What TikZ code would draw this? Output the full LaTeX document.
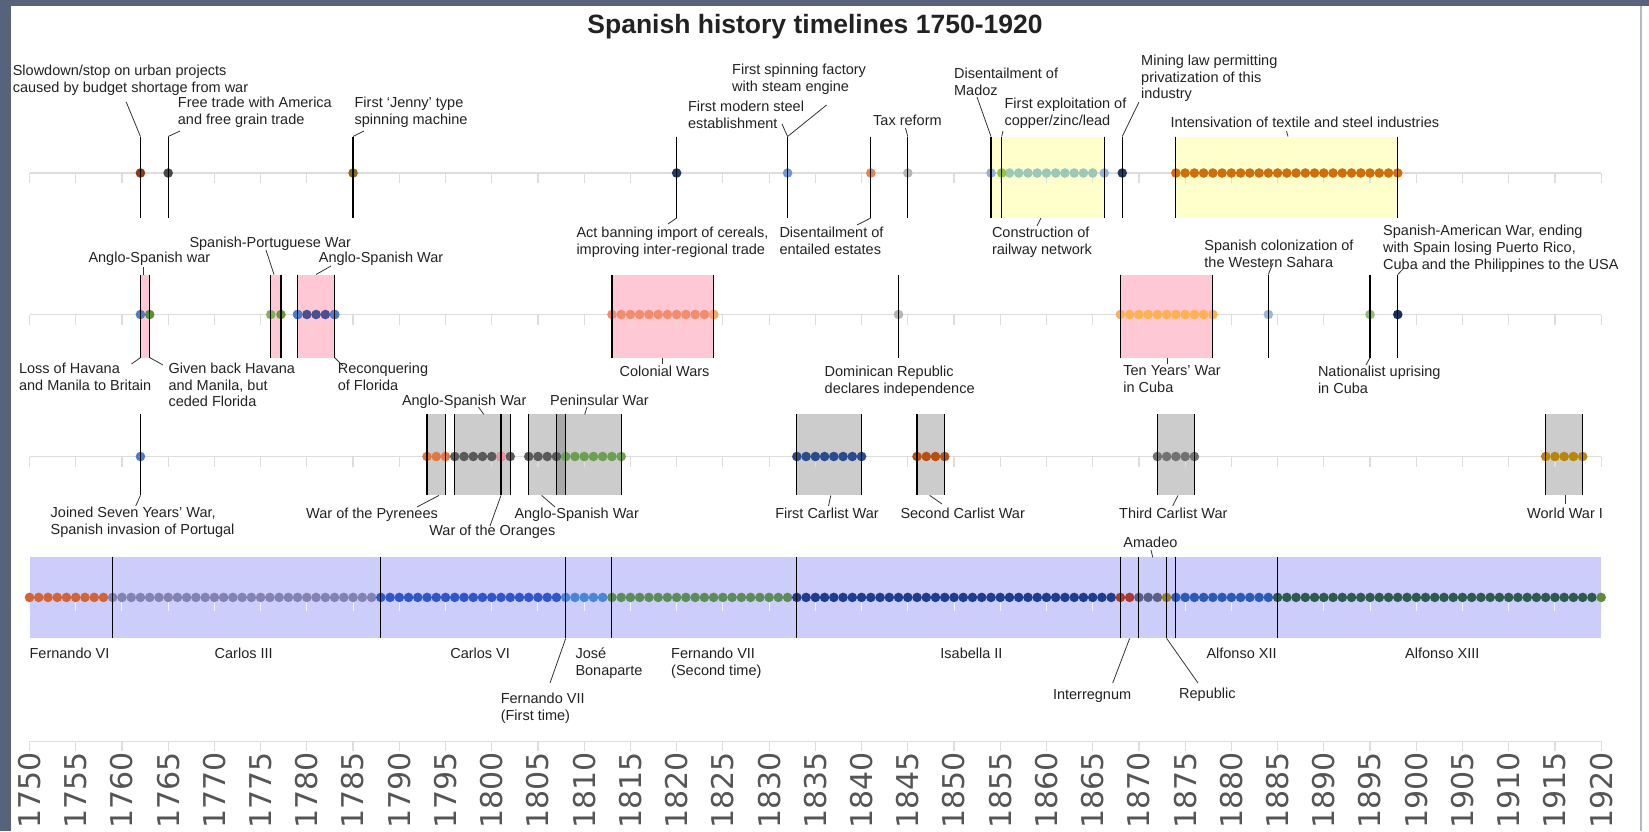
\documentclass[tikz,border=0pt]{standalone}
\usepackage{fontspec}
\setmainfont{Liberation Sans}
\newfontfamily\yearfont{DejaVu Sans}
\definecolor{framecol}{HTML}{56637A}
\definecolor{axg}{HTML}{DDDDDD}
\definecolor{pinkbox}{HTML}{FFC8D4}
\definecolor{yelbox}{HTML}{FFFFCC}
\definecolor{graybox}{HTML}{CCCCCC}
\definecolor{grayover}{HTML}{A8A8A8}
\definecolor{bandcol}{HTML}{CDCDFC}
\definecolor{txt}{HTML}{222222}
\definecolor{ldr}{HTML}{333333}
\definecolor{yeargray}{HTML}{555555}
% dot colours
\definecolor{cBrownRed}{HTML}{8B3A0E}
\definecolor{cDarkGray}{HTML}{4A4A4A}
\definecolor{cOlive}{HTML}{8A6A12}
\definecolor{cNavy}{HTML}{1D3A6B}
\definecolor{cLightBlue}{HTML}{7096D4}
\definecolor{cOrange}{HTML}{E8834A}
\definecolor{cLGray}{HTML}{B5B5B5}
\definecolor{cTeal}{HTML}{9CC8B8}
\definecolor{cPaleBlue}{HTML}{90B2DE}
\definecolor{cLime}{HTML}{94C044}
\definecolor{cAmber}{HTML}{CC6F0C}
\definecolor{cBlue}{HTML}{4D7CC9}
\definecolor{cGreen}{HTML}{5E8F34}
\definecolor{cLGreen}{HTML}{80B058}
\definecolor{cPurple}{HTML}{4A4F90}
\definecolor{cSalmon}{HTML}{F28C6A}
\definecolor{cPeach}{HTML}{F7A866}
\definecolor{cYelOr}{HTML}{FFB050}
\definecolor{cSky}{HTML}{92B8E2}
\definecolor{cPaleGreen}{HTML}{8CC070}
\definecolor{cDeepNavy}{HTML}{1A2D5A}
\definecolor{cPyr}{HTML}{E07840}
\definecolor{cGrayDot}{HTML}{5A5A5A}
\definecolor{cPink}{HTML}{F090A0}
\definecolor{cWarGreen}{HTML}{6AA050}
\definecolor{cCarl}{HTML}{2A4B8C}
\definecolor{cRust}{HTML}{B8500F}
\definecolor{cMidGray}{HTML}{727272}
\definecolor{cGold}{HTML}{B8860B}
\definecolor{rFVI}{HTML}{D2643A}
\definecolor{rCIII}{HTML}{8283B2}
\definecolor{rCIV}{HTML}{3056C8}
\definecolor{rJose}{HTML}{4A86D8}
\definecolor{rFVII}{HTML}{5B8C5A}
\definecolor{rIsa}{HTML}{1F3D8C}
\definecolor{rInter}{HTML}{A83A32}
\definecolor{rAmadeo}{HTML}{5A5F8A}
\definecolor{rRep}{HTML}{9C7B25}
\definecolor{rAXII}{HTML}{2B5BB5}
\definecolor{rAXIII}{HTML}{2F5A50}
\definecolor{rEnd}{HTML}{5D8C3C}
\newcommand\yx[1]{{29.5+(#1-1750)*9.245}}
\newcommand\dotrow[4]{\foreach \i in {#1,...,#2}{\fill[#3] (\yx{\i},#4) circle (4.8pt);}}
\newcommand\onedot[3]{\fill[#2] (\yx{#1},#3) circle (4.8pt);}
\newcommand\evl[4]{\coordinate (#1t) at (\yx{#2},#3); \coordinate (#1b) at (\yx{#2},#4); \draw[evline] (#1t) -- (#1b);}
\newcommand\rgl[2]{\coordinate (#1t) at (\yx{#2},557.4); \coordinate (#1b) at (\yx{#2},638.4); \draw[reignline] (#1t) -- (#1b);}
\newcommand\tlaxis[2]{\draw[axisln] (\yx{1750},#1) -- (\yx{1920},#1); \foreach \i in {1750,1755,...,1920}{\draw[#2] (\yx{\i},#1) -- (\yx{\i},#1+10);}}
\newcommand\spanbox[5]{\fill[#1] (\yx{#2},#4) rectangle (\yx{#3},#5);}
\tikzset{
  lbl/.style={anchor=north west, inner sep=0pt, align=left, text=txt, font=\fontsize{14.5}{16.8}\selectfont},
  evline/.style={draw=black, line width=1.2pt},
  reignline/.style={draw=black, line width=0.9pt},
  leader/.style={draw=ldr, line width=0.8pt},
  axisln/.style={draw=axg, line width=1.6pt},
  tickln/.style={draw=axg, line width=1.2pt},
  bandtick/.style={draw=white!80!bandcol, line width=1pt},
  titlestyle/.style={inner sep=0pt, text=txt, font=\fontsize{26.5}{30}\selectfont\bfseries},
  yearlbl/.style={rotate=90, anchor=east, inner sep=0pt, text=yeargray, font=\yearfont\fontsize{30}{31}\selectfont},
}
\begin{document}
\begin{tikzpicture}[x=1pt,y=-1pt]
\useasboundingbox (0,0) rectangle (1649,831);
\fill[white] (0,0) rectangle (1649,831);
\fill[framecol] (0,0) rectangle (11,831);
\fill[framecol] (0,0) rectangle (1649,6);
\fill[framecol!45] (1640,6) rectangle (1642,831);

\node[titlestyle] (title) at (815,26.3) {Spanish history timelines 1750-1920};

% ================= ROW 1 : economy =================
\spanbox{yelbox}{1854}{1866.26}{136.5}{218}
\spanbox{yelbox}{1874}{1898}{136.5}{218}
\tlaxis{173}{tickln}
\onedot{1762}{cBrownRed}{173}
\onedot{1765}{cDarkGray}{173}
\onedot{1785}{cOlive}{173}
\onedot{1820}{cNavy}{173}
\onedot{1832}{cLightBlue}{173}
\onedot{1841}{cOrange}{173}
\onedot{1845}{cLGray}{173}
\dotrow{1856}{1865}{cTeal}{173}
\onedot{1866.26}{cPaleBlue}{173}
\onedot{1854}{cPaleBlue}{173}
\onedot{1855.16}{cLime}{173}
\onedot{1868.2}{cNavy}{173}
\dotrow{1874}{1898}{cAmber}{173}
\evl{a1}{1762}{136.5}{218}
\evl{a2}{1765}{136.5}{218}
\evl{a3}{1785}{136.5}{218}
\evl{a4}{1820}{136.5}{218}
\evl{a5}{1832}{136.5}{218}
\evl{a6}{1841}{136.5}{218}
\evl{a7}{1845}{136.5}{218}
\evl{a8}{1854}{136.5}{218}
\evl{a9}{1855.16}{136.5}{218}
\evl{a10}{1866.26}{136.5}{218}
\evl{a11}{1868.2}{136.5}{218}
\evl{a12}{1874}{136.5}{218}
\evl{a13}{1898}{136.5}{218}

\node[lbl] (l1) at (12.6,65) {Slowdown/stop on urban projects\\caused by budget shortage from war};
\node[lbl] (l2) at (177.7,96.5) {Free trade with America\\and free grain trade};
\node[lbl] (l3) at (354.4,96.5) {First ‘Jenny’ type\\spinning machine};
\node[lbl] (l4) at (732,64) {First spinning factory\\with steam engine};
\node[lbl] (l5) at (687.8,100.7) {First modern steel\\establishment};
\node[lbl] (l6) at (873,114.4) {Tax reform};
\node[lbl] (l7) at (953.9,68.1) {Disentailment of\\Madoz};
\node[lbl] (l8) at (1004.4,97.5) {First exploitation of\\copper/zinc/lead};
\node[lbl] (l9) at (1141,54.5) {Mining law permitting\\privatization of this\\industry};
\node[lbl] (l10) at (1170.5,116.5) {Intensivation of textile and steel industries};
\node[lbl] (l11) at (576.3,227) {Act banning import of cereals,\\improving inter-regional trade};
\node[lbl] (l12) at (779.3,227) {Disentailment of\\entailed estates};
\node[lbl] (l13) at (991.8,227) {Construction of\\railway network};

\coordinate (k1) at (126.2,102);
\coordinate (k2) at (180,131);
\coordinate (k3) at (364,131);
\coordinate (k4a) at (826.6,105);
\coordinate (k4b) at (782,124);
\coordinate (k6) at (905.5,128);
\coordinate (k7) at (977,97);
\coordinate (k8) at (1003,131);
\coordinate (k9) at (1139,102);
\coordinate (k10a) at (1288,136.5);
\coordinate (k10) at (1286.5,131);
\coordinate (k11) at (668,224);
\coordinate (k12) at (857,225);
\coordinate (k13a) at (1041,218);
\coordinate (k13) at (1037,226);
\draw[leader] (a1t) -- (k1);
\draw[leader] (a2t) -- (k2);
\draw[leader] (a3t) -- (k3);
\draw[leader] (a5t) -- (k4a);
\draw[leader] (a5t) -- (k4b);
\draw[leader] (a7t) -- (k6);
\draw[leader] (a8t) -- (k7);
\draw[leader] (a9t) -- (k8);
\draw[leader] (a11t) -- (k9);
\draw[leader] (k10a) -- (k10);
\draw[leader] (a4b) -- (k11);
\draw[leader] (a6b) -- (k12);
\draw[leader] (k13a) -- (k13);

% ================= ROW 2 : colonies =================
\spanbox{pinkbox}{1762}{1763}{274.5}{357.6}
\spanbox{pinkbox}{1776.1}{1777.2}{274.5}{357.6}
\spanbox{pinkbox}{1779}{1783}{274.5}{357.6}
\spanbox{pinkbox}{1813}{1824}{274.5}{357.6}
\spanbox{pinkbox}{1868}{1878}{274.5}{357.6}
\tlaxis{314.5}{tickln}
\onedot{1762}{cBlue}{314.5}
\onedot{1763}{cGreen}{314.5}
\onedot{1776.1}{cLGreen}{314.5}
\onedot{1777.2}{cGreen!70!cLGreen}{314.5}
\dotrow{1779}{1783}{cPurple}{314.5}
\onedot{1779}{cBlue}{314.5}
\onedot{1783}{cBlue}{314.5}
\dotrow{1813}{1824}{cSalmon}{314.5}
\onedot{1824}{cPeach}{314.5}
\onedot{1844}{cLGray}{314.5}
\dotrow{1868}{1878}{cYelOr}{314.5}
\onedot{1884}{cSky}{314.5}
\onedot{1895}{cPaleGreen}{314.5}
\onedot{1898}{cDeepNavy}{314.5}
\evl{b1}{1762}{274.5}{357.6}
\evl{b2}{1763}{274.5}{357.6}
\evl{b3}{1776.1}{274.5}{357.6}
\evl{b4}{1777.2}{274.5}{357.6}
\evl{b5}{1779}{274.5}{357.6}
\evl{b6}{1783}{274.5}{357.6}
\evl{b7}{1813}{274.5}{357.6}
\evl{b8}{1824}{274.5}{357.6}
\evl{b9}{1844}{274.5}{357.6}
\evl{b10}{1868}{274.5}{357.6}
\evl{b11}{1878}{274.5}{357.6}
\evl{b12}{1884}{274.5}{357.6}
\evl{b13}{1895}{274.5}{357.6}
\evl{b14}{1898}{274.5}{357.6}

\node[lbl] (m1) at (88.3,252.2) {Anglo-Spanish war};
\node[lbl] (m2) at (189.3,236.4) {Spanish-Portuguese War};
\node[lbl] (m3) at (318.7,252.2) {Anglo-Spanish War};
\node[lbl] (m4) at (1204.2,239.5) {Spanish colonization of\\the Western Sahara};
\node[lbl] (m5) at (1383,224.8) {Spanish-American War, ending\\with Spain losing Puerto Rico,\\Cuba and the Philippines to the USA};
\node[lbl] (m6) at (18.9,362.6) {Loss of Havana\\and Manila to Britain};
\node[lbl] (m7) at (168.3,362.6) {Given back Havana\\and Manila, but\\ceded Florida};
\node[lbl] (m8) at (337.6,362.6) {Reconquering\\of Florida};
\node[lbl] (m9) at (619.5,365.8) {Colonial Wars};
\node[lbl] (m10) at (824.5,365.8) {Dominican Republic\\declares independence};
\node[lbl] (m11) at (1123.2,365.8) {Ten Years’ War\\in Cuba};
\node[lbl] (m12) at (1317.8,365.8) {Nationalist uprising\\in Cuba};

\coordinate (n1a) at (143,274.5);
\coordinate (n1) at (143,267);
\coordinate (n2a) at (274,274.5);
\coordinate (n2) at (266,250);
\coordinate (n3a) at (316,274.5);
\coordinate (n3) at (331,266);
\coordinate (n6) at (131.5,364);
\coordinate (n7) at (163,365);
\coordinate (n8) at (343,366);
\coordinate (n9a) at (662.3,357.6);
\coordinate (n9) at (662.3,364);
\coordinate (n11a) at (1167.4,357.6);
\coordinate (n11) at (1167.4,364);
\coordinate (n4) at (1273,263);
\coordinate (n12) at (1366,365);
\coordinate (n5) at (1404,268);
\draw[leader] (n1a) -- (n1);
\draw[leader] (n2a) -- (n2);
\draw[leader] (n3a) -- (n3);
\draw[leader] (b1b) -- (n6);
\draw[leader] (b2b) -- (n7);
\draw[leader] (b6b) -- (n8);
\draw[leader] (n9a) -- (n9);
\draw[leader] (n11a) -- (n11);
\draw[leader] (b12t) -- (n4);
\draw[leader] (b13b) -- (n12);
\draw[leader] (b14t) -- (n5);

% ================= ROW 3 : wars =================
\spanbox{graybox}{1793}{1795}{414.4}{495.4}
\spanbox{graybox}{1796}{1802}{414.4}{495.4}
\spanbox{graybox}{1804}{1808}{414.4}{495.4}
\spanbox{graybox}{1807}{1814}{414.4}{495.4}
\spanbox{grayover}{1807}{1808}{414.4}{495.4}
\spanbox{graybox}{1833}{1840}{414.4}{495.4}
\spanbox{graybox}{1846}{1849}{414.4}{495.4}
\spanbox{graybox}{1872}{1876}{414.4}{495.4}
\spanbox{graybox}{1914}{1918}{414.4}{495.4}
\tlaxis{456.5}{tickln}
\onedot{1762}{cBlue}{456.5}
\dotrow{1793}{1795}{cPyr}{456.5}
\dotrow{1796}{1802}{cGrayDot}{456.5}
\onedot{1801}{cPink}{456.5}
\dotrow{1804}{1807}{cGrayDot}{456.5}
\dotrow{1808}{1814}{cWarGreen}{456.5}
\dotrow{1833}{1840}{cCarl}{456.5}
\dotrow{1846}{1849}{cRust}{456.5}
\dotrow{1872}{1876}{cMidGray}{456.5}
\dotrow{1914}{1918}{cGold}{456.5}
\evl{c1}{1762}{414.4}{495.4}
\evl{c2}{1793}{414.4}{495.4}
\evl{c3}{1795}{414.4}{495.4}
\evl{c4}{1796}{414.4}{495.4}
\evl{c5}{1802}{414.4}{495.4}
\evl{c6}{1801}{414.4}{495.4}
\evl{c7}{1804}{414.4}{495.4}
\evl{c8}{1807}{414.4}{495.4}
\evl{c9}{1808}{414.4}{495.4}
\evl{c10}{1814}{414.4}{495.4}
\evl{c11}{1833}{414.4}{495.4}
\evl{c12}{1840}{414.4}{495.4}
\evl{c13}{1846}{414.4}{495.4}
\evl{c14}{1849}{414.4}{495.4}
\evl{c15}{1872}{414.4}{495.4}
\evl{c16}{1876}{414.4}{495.4}
\evl{c17}{1914}{414.4}{495.4}
\evl{c18}{1918}{414.4}{495.4}

\node[lbl] (w1) at (401.8,395.2) {Anglo-Spanish War};
\node[lbl] (w2) at (550,395.2) {Peninsular War};
\node[lbl] (w3) at (50.5,506.7) {Joined Seven Years’ War,\\Spanish invasion of Portugal};
\node[lbl] (w4) at (306,507.7) {War of the Pyrenees};
\node[lbl] (w5) at (429.1,524.5) {War of the Oranges};
\node[lbl] (w6) at (514.3,507.7) {Anglo-Spanish War};
\node[lbl] (w7) at (775.1,507.7) {First Carlist War};
\node[lbl] (w8) at (900.3,507.7) {Second Carlist War};
\node[lbl] (w9) at (1119,507.7) {Third Carlist War};
\node[lbl] (w10) at (1527,507.7) {World War I};

\coordinate (v1a) at (483.8,414.4);
\coordinate (v1) at (478.5,407);
\coordinate (v2a) at (584.7,414.4);
\coordinate (v2) at (587,407);
\coordinate (v3) at (135.7,506);
\coordinate (v4a) at (439,495.4);
\coordinate (v4) at (417,507);
\coordinate (v5) at (490,526);
\coordinate (v6a) at (541.6,495.4);
\coordinate (v6) at (555,507);
\coordinate (v7a) at (830.8,495.4);
\coordinate (v7) at (828.5,506);
\coordinate (v8a) at (929.7,495.4);
\coordinate (v8) at (942,504);
\coordinate (v9a) at (1178,495.4);
\coordinate (v9) at (1172.6,506);
\coordinate (v10a) at (1565,495.4);
\coordinate (v10) at (1565,504);
\draw[leader] (v1a) -- (v1);
\draw[leader] (v2a) -- (v2);
\draw[leader] (c1b) -- (v3);
\draw[leader] (v4a) -- (v4);
\draw[leader] (c6b) -- (v5);
\draw[leader] (v6a) -- (v6);
\draw[leader] (v7a) -- (v7);
\draw[leader] (v8a) -- (v8);
\draw[leader] (v9a) -- (v9);
\draw[leader] (v10a) -- (v10);

% ================= ROW 4 : reigns =================
\spanbox{bandcol}{1750}{1920}{557.4}{638.4}
\draw[axisln] (\yx{1750},597.4) -- (\yx{1920},597.4);
\foreach \i in {1750,1755,...,1920}{\draw[bandtick] (\yx{\i},597.4) -- (\yx{\i},611);}
\dotrow{1750}{1758}{rFVI}{597.4}
\dotrow{1759}{1787}{rCIII}{597.4}
\dotrow{1788}{1807}{rCIV}{597.4}
\dotrow{1808}{1812}{rJose}{597.4}
\dotrow{1813}{1832}{rFVII}{597.4}
\dotrow{1833}{1867}{rIsa}{597.4}
\dotrow{1868}{1869}{rInter}{597.4}
\dotrow{1870}{1872}{rAmadeo}{597.4}
\onedot{1873}{rRep}{597.4}
\dotrow{1874}{1884}{rAXII}{597.4}
\dotrow{1885}{1919}{rAXIII}{597.4}
\onedot{1920}{rEnd}{597.4}
\rgl{r1}{1759}
\rgl{r2}{1788}
\rgl{r3}{1808}
\rgl{r4}{1813}
\rgl{r5}{1833}
\rgl{r6}{1868}
\rgl{r7}{1870}
\rgl{r8}{1873}
\rgl{r9}{1874}
\rgl{r10}{1885}

\node[lbl] (q1) at (29.4,647.6) {Fernando VI};
\node[lbl] (q2) at (214.5,647.6) {Carlos III};
\node[lbl] (q3) at (450.1,647.6) {Carlos VI};
\node[lbl] (q4) at (575.3,647.6) {José\\Bonaparte};
\node[lbl] (q5) at (671,647.6) {Fernando VII\\(Second time)};
\node[lbl] (q6) at (940.2,647.6) {Isabella II};
\node[lbl] (q7) at (1206.3,647.6) {Alfonso XII};
\node[lbl] (q8) at (1405,647.6) {Alfonso XIII};
\node[lbl] (q9) at (500.6,692.8) {Fernando VII\\(First time)};
\node[lbl] (q10) at (1052.8,689.7) {Interregnum};
\node[lbl] (q11) at (1179,687.5) {Republic};
\node[lbl] (q12) at (1123.2,537.2) {Amadeo};

\coordinate (p9) at (550,683);
\coordinate (p10a) at (\yx{1869},638.4);
\coordinate (p10) at (1112.7,683);
\coordinate (p11) at (1198,683);
\coordinate (p12a) at (\yx{1871.5},557.4);
\coordinate (p12) at (1151,550);
\draw[leader] (r3b) -- (p9);
\draw[leader] (p10a) -- (p10);
\draw[leader] (r8b) -- (p11);
\draw[leader] (p12a) -- (p12);

% ================= bottom year axis =================
\draw[axisln] (\yx{1750},741.4) -- (\yx{1920},741.4);
\foreach \i in {1750,1755,...,1920}{
  \draw[tickln] (\yx{\i},741.4) -- (\yx{\i},751);
  \node[yearlbl] (y\i) at (\yx{\i},752) {\i};
}
\end{tikzpicture}
\end{document}
